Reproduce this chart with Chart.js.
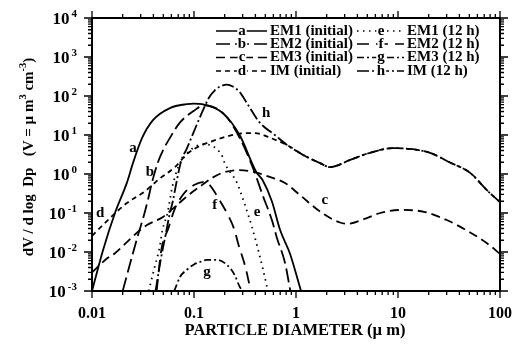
<!DOCTYPE html>
<html><head><meta charset="utf-8">
<script src="https://cdn.jsdelivr.net/npm/chart.js@4/dist/chart.umd.min.js"></script>
<style>html,body{margin:0;padding:0;background:#fff;}canvas{display:block;}</style>
</head><body>
<canvas id="c" width="514" height="344" style="width:514px;height:344px"></canvas>
<script>
// ---- data (particle diameter in µm, dV/dlogDp) ----
const diamA = [0.01, 0.0128, 0.0168, 0.022, 0.0252, 0.031, 0.0396, 0.058, 0.085, 0.1, 0.12, 0.193, 0.28, 0.41, 0.47, 0.58, 0.70, 0.87, 1.12];
const dvA   = [0.001, 0.011, 0.1, 0.6, 1.9, 8.4, 24, 49, 62, 64, 62, 36, 10, 1.1, 0.7, 0.2, 0.036, 0.0093, 0.001];
const diamB = [0.02, 0.0236, 0.028, 0.032, 0.0354, 0.0387, 0.0443, 0.05, 0.058, 0.073, 0.1, 0.125, 0.2, 0.28, 0.38, 0.47, 0.58, 0.65, 0.78, 0.88];
const dvB   = [0.001, 0.005, 0.025, 0.08, 0.22, 0.6, 2.0, 4.2, 8.4, 21, 42, 58, 33, 8.5, 1.4, 0.29, 0.066, 0.023, 0.0053, 0.001];
const diamC = [0.01, 0.0143, 0.0168, 0.0247, 0.0295, 0.0346, 0.0496, 0.06, 0.075, 0.09, 0.12, 0.15, 0.19, 0.28, 0.4, 0.56, 0.78, 1.09, 1.8, 2.7, 3.2, 4.8, 6.7, 11, 18, 30, 47, 74, 100];
const dvC   = [0.003, 0.0071, 0.0093, 0.024, 0.036, 0.049, 0.079, 0.12, 0.2, 0.3, 0.52, 0.79, 1.07, 1.26, 1.1, 0.83, 0.59, 0.29, 0.1, 0.057, 0.053, 0.072, 0.1, 0.12, 0.107, 0.066, 0.036, 0.017, 0.009];
const diamD = [0.01, 0.015, 0.022, 0.033, 0.046, 0.065, 0.085, 0.11, 0.15, 0.2, 0.3, 0.4, 0.556, 0.82, 1.17, 1.72, 2.15, 3.4, 5.3, 8.9, 13, 20.6, 32, 51, 74, 100];
const dvD   = [0.026, 0.074, 0.18, 0.36, 0.76, 1.5, 3.2, 5.0, 6.9, 8.9, 11, 11.2, 8.5, 5.5, 3.1, 1.9, 1.5, 2.3, 3.5, 4.6, 4.4, 3.5, 2.0, 1.07, 0.39, 0.19];
const diamE = [0.036, 0.041, 0.046, 0.049, 0.055, 0.061, 0.07, 0.085, 0.1, 0.125, 0.15, 0.17, 0.19, 0.2, 0.264, 0.316, 0.37, 0.42, 0.47, 0.53];
const dvE   = [0.001, 0.004, 0.013, 0.036, 0.1, 0.44, 1.5, 3.3, 4.8, 5.8, 5.3, 4.2, 2.8, 1.9, 0.59, 0.16, 0.044, 0.013, 0.004, 0.001];
const diamF = [0.043, 0.048, 0.056, 0.065, 0.08, 0.1, 0.128, 0.14, 0.16, 0.19, 0.215, 0.25, 0.27, 0.32, 0.36];
const dvF   = [0.001, 0.012, 0.04, 0.13, 0.32, 0.52, 0.63, 0.55, 0.34, 0.16, 0.09, 0.036, 0.017, 0.004, 0.001];
const diamG = [0.064, 0.073, 0.085, 0.1, 0.114, 0.134, 0.167, 0.21, 0.25, 0.28, 0.3];
const dvG   = [0.001, 0.0023, 0.0035, 0.0048, 0.0055, 0.0063, 0.0063, 0.0047, 0.0026, 0.0013, 0.001];
const diamH = [0.042, 0.047, 0.053, 0.058, 0.062, 0.068, 0.075, 0.085, 0.095, 0.107, 0.122, 0.14, 0.16, 0.18, 0.21, 0.24, 0.28, 0.33, 0.44, 0.62, 0.82, 1.17, 1.72, 2.15, 3.4, 5.3, 8.9, 13, 20.6, 32, 51, 74, 100];
const dvH   = [0.001, 0.006, 0.03, 0.1, 0.2, 0.7, 2.2, 4.5, 9, 19, 42, 90, 140, 175, 195, 175, 126, 66, 21, 10, 5.5, 3.1, 1.9, 1.5, 2.3, 3.5, 4.6, 4.4, 3.5, 2.0, 1.07, 0.39, 0.19];

const curveLetters = ['a', 'b', 'c', 'd', 'e', 'f', 'g', 'h'];
const curveNames = ['EM1 (initial)', 'EM2 (initial)', 'EM3 (initial)', 'IM (initial)', 'EM1 (12 h)', 'EM2 (12 h)', 'EM3 (12 h)', 'IM (12 h)'];
// where each curve letter sits, in data units (diameter, dV/dlogDp)
const letterDiam = [0.0253, 0.037, 1.92, 0.012, 0.415, 0.16, 0.134, 0.51];
const letterDv   = [4.6, 1.12, 0.215, 0.1, 0.107, 0.16, 0.0031, 36];
const xTickValues = [0.01, 0.1, 1, 10, 100];
const xTickLabels = ['0.01', '0.1', '1', '10', '100'];
const yTickExps = [4, 3, 2, 1, 0, -1, -2, -3];
const xTitle = 'PARTICLE DIAMETER (\u00b5 m)';

// ---- styles ----
const dashes = [[], [14, 5], [9, 5], [5, 4], [1.5, 4.5], [12, 7], [7, 3, 2, 3], [12, 3, 2, 3]];
const SERIF = '"Liberation Serif", "Times New Roman", serif';

const xs = [diamA, diamB, diamC, diamD, diamE, diamF, diamG, diamH];
const ys = [dvA, dvB, dvC, dvD, dvE, dvF, dvG, dvH];

const datasets = curveLetters.map((k, i) => ({
  label: curveNames[i],
  data: xs[i].map((x, j) => ({x: x, y: ys[i][j]})),
  showLine: true,
  borderColor: '#000',
  borderWidth: 1.8,
  borderDash: dashes[i],
  pointRadius: 0,
  cubicInterpolationMode: 'monotone',
  fill: false
}));

const decor = {
  id: 'decor',
  afterDraw(chart) {
    const ctx = chart.ctx;
    const a = chart.chartArea;
    const sx = chart.scales.x, sy = chart.scales.y;
    ctx.save();
    ctx.strokeStyle = '#000';
    ctx.fillStyle = '#000';
    ctx.setLineDash([]);
    // frame
    ctx.lineWidth = 2;
    ctx.strokeRect(a.left, a.top, a.right - a.left, a.bottom - a.top);
    // ticks
    ctx.lineWidth = 1.3;
    ctx.beginPath();
    for (let e = -2; e <= 2; e++) {
      for (let k = 1; k <= 9; k++) {
        if (e === 2 && k > 1) break;
        const px = sx.getPixelForValue(k * Math.pow(10, e));
        const len = k === 1 ? 7 : 4;
        ctx.moveTo(px, a.bottom); ctx.lineTo(px, a.bottom + len);
        ctx.moveTo(px, a.top); ctx.lineTo(px, a.top - len);
      }
    }
    for (let e = -3; e <= 4; e++) {
      for (let k = 1; k <= 9; k++) {
        if (e === 4 && k > 1) break;
        const py = sy.getPixelForValue(k * Math.pow(10, e));
        const len = k === 1 ? 8 : 4;
        ctx.moveTo(a.left, py); ctx.lineTo(a.left - len, py);
        ctx.moveTo(a.right, py); ctx.lineTo(a.right + len, py);
      }
    }
    ctx.stroke();
    // x tick labels
    ctx.font = 'bold 16px ' + SERIF;
    ctx.textAlign = 'center';
    ctx.textBaseline = 'alphabetic';
    xTickValues.forEach((v, i) => {
      ctx.fillText(xTickLabels[i], sx.getPixelForValue(v), 318);
    });
    // x title
    ctx.font = 'bold 16.5px ' + SERIF;
    ctx.fillText(xTitle, 295, 335);
    // y tick labels
    yTickExps.forEach(ex => {
      const py = sy.getPixelForValue(Math.pow(10, ex));
      const expTxt = String(ex);
      ctx.font = 'bold 11px ' + SERIF;
      const wE = ctx.measureText(expTxt).width;
      ctx.textAlign = 'left';
      ctx.fillText(expTxt, 77 - wE, py - 1);
      ctx.font = 'bold 17px ' + SERIF;
      const wB = ctx.measureText('10').width;
      ctx.fillText('10', 77 - wE - 2 - wB, py + 6);
    });
    // y title (rotated)
    const parts = [['dV / d log  Dp   (V = \u00b5 m', false], ['3', true], [' cm', false], ['-3', true], [')', false]];
    ctx.save();
    ctx.translate(33, 157);
    ctx.rotate(-Math.PI / 2);
    let total = 0;
    parts.forEach(p => { ctx.font = (p[1] ? 'bold 10.5px ' : 'bold 15px ') + SERIF; total += ctx.measureText(p[0]).width; });
    let cx = -total / 2;
    ctx.textAlign = 'left';
    parts.forEach(p => {
      ctx.font = (p[1] ? 'bold 10.5px ' : 'bold 15px ') + SERIF;
      ctx.fillText(p[0], cx, p[1] ? -7 : 0);
      cx += ctx.measureText(p[0]).width;
    });
    ctx.restore();
    // legend
    const rowY = [31, 44, 57.5, 71];
    const cols = [{x0: 216, x1: 267, lx: 242, tx: 270}, {x0: 357, x1: 404, lx: 381, tx: 407}];
    ctx.font = 'bold 15px ' + SERIF;
    curveLetters.forEach((k, i) => {
      const col = cols[Math.floor(i / 4)];
      const y = rowY[i % 4];
      ctx.lineWidth = 1.6;
      ctx.setLineDash(dashes[i]);
      ctx.beginPath();
      ctx.moveTo(col.x0, y); ctx.lineTo(col.x1, y);
      ctx.stroke();
      ctx.setLineDash([]);
      ctx.textAlign = 'center';
      ctx.textBaseline = 'middle';
      const lw = ctx.measureText(k).width;
      ctx.fillStyle = '#fff';
      ctx.fillRect(col.lx - lw / 2 - 1, y - 7, lw + 2, 13);
      ctx.fillStyle = '#000';
      ctx.fillText(k, col.lx, y);
      ctx.textAlign = 'left';
      ctx.fillText(curveNames[i], col.tx, y);
    });
    // curve letters
    ctx.font = 'bold 15px ' + SERIF;
    ctx.textAlign = 'center';
    ctx.textBaseline = 'middle';
    curveLetters.forEach((k, i) => {
      ctx.fillText(k, sx.getPixelForValue(letterDiam[i]), sy.getPixelForValue(letterDv[i]));
    });
    ctx.restore();
  }
};

new Chart(document.getElementById('c'), {
  type: 'scatter',
  data: {datasets: datasets},
  options: {
    responsive: false,
    animation: false,
    devicePixelRatio: 1,
    layout: {padding: {left: 92, top: 18, right: 14, bottom: 53}},
    plugins: {legend: {display: false}, tooltip: {enabled: false}},
    scales: {
      x: {type: 'logarithmic', min: 0.01, max: 100, display: false},
      y: {type: 'logarithmic', min: 0.001, max: 10000, display: false}
    }
  },
  plugins: [decor]
});
</script>
</body></html>
